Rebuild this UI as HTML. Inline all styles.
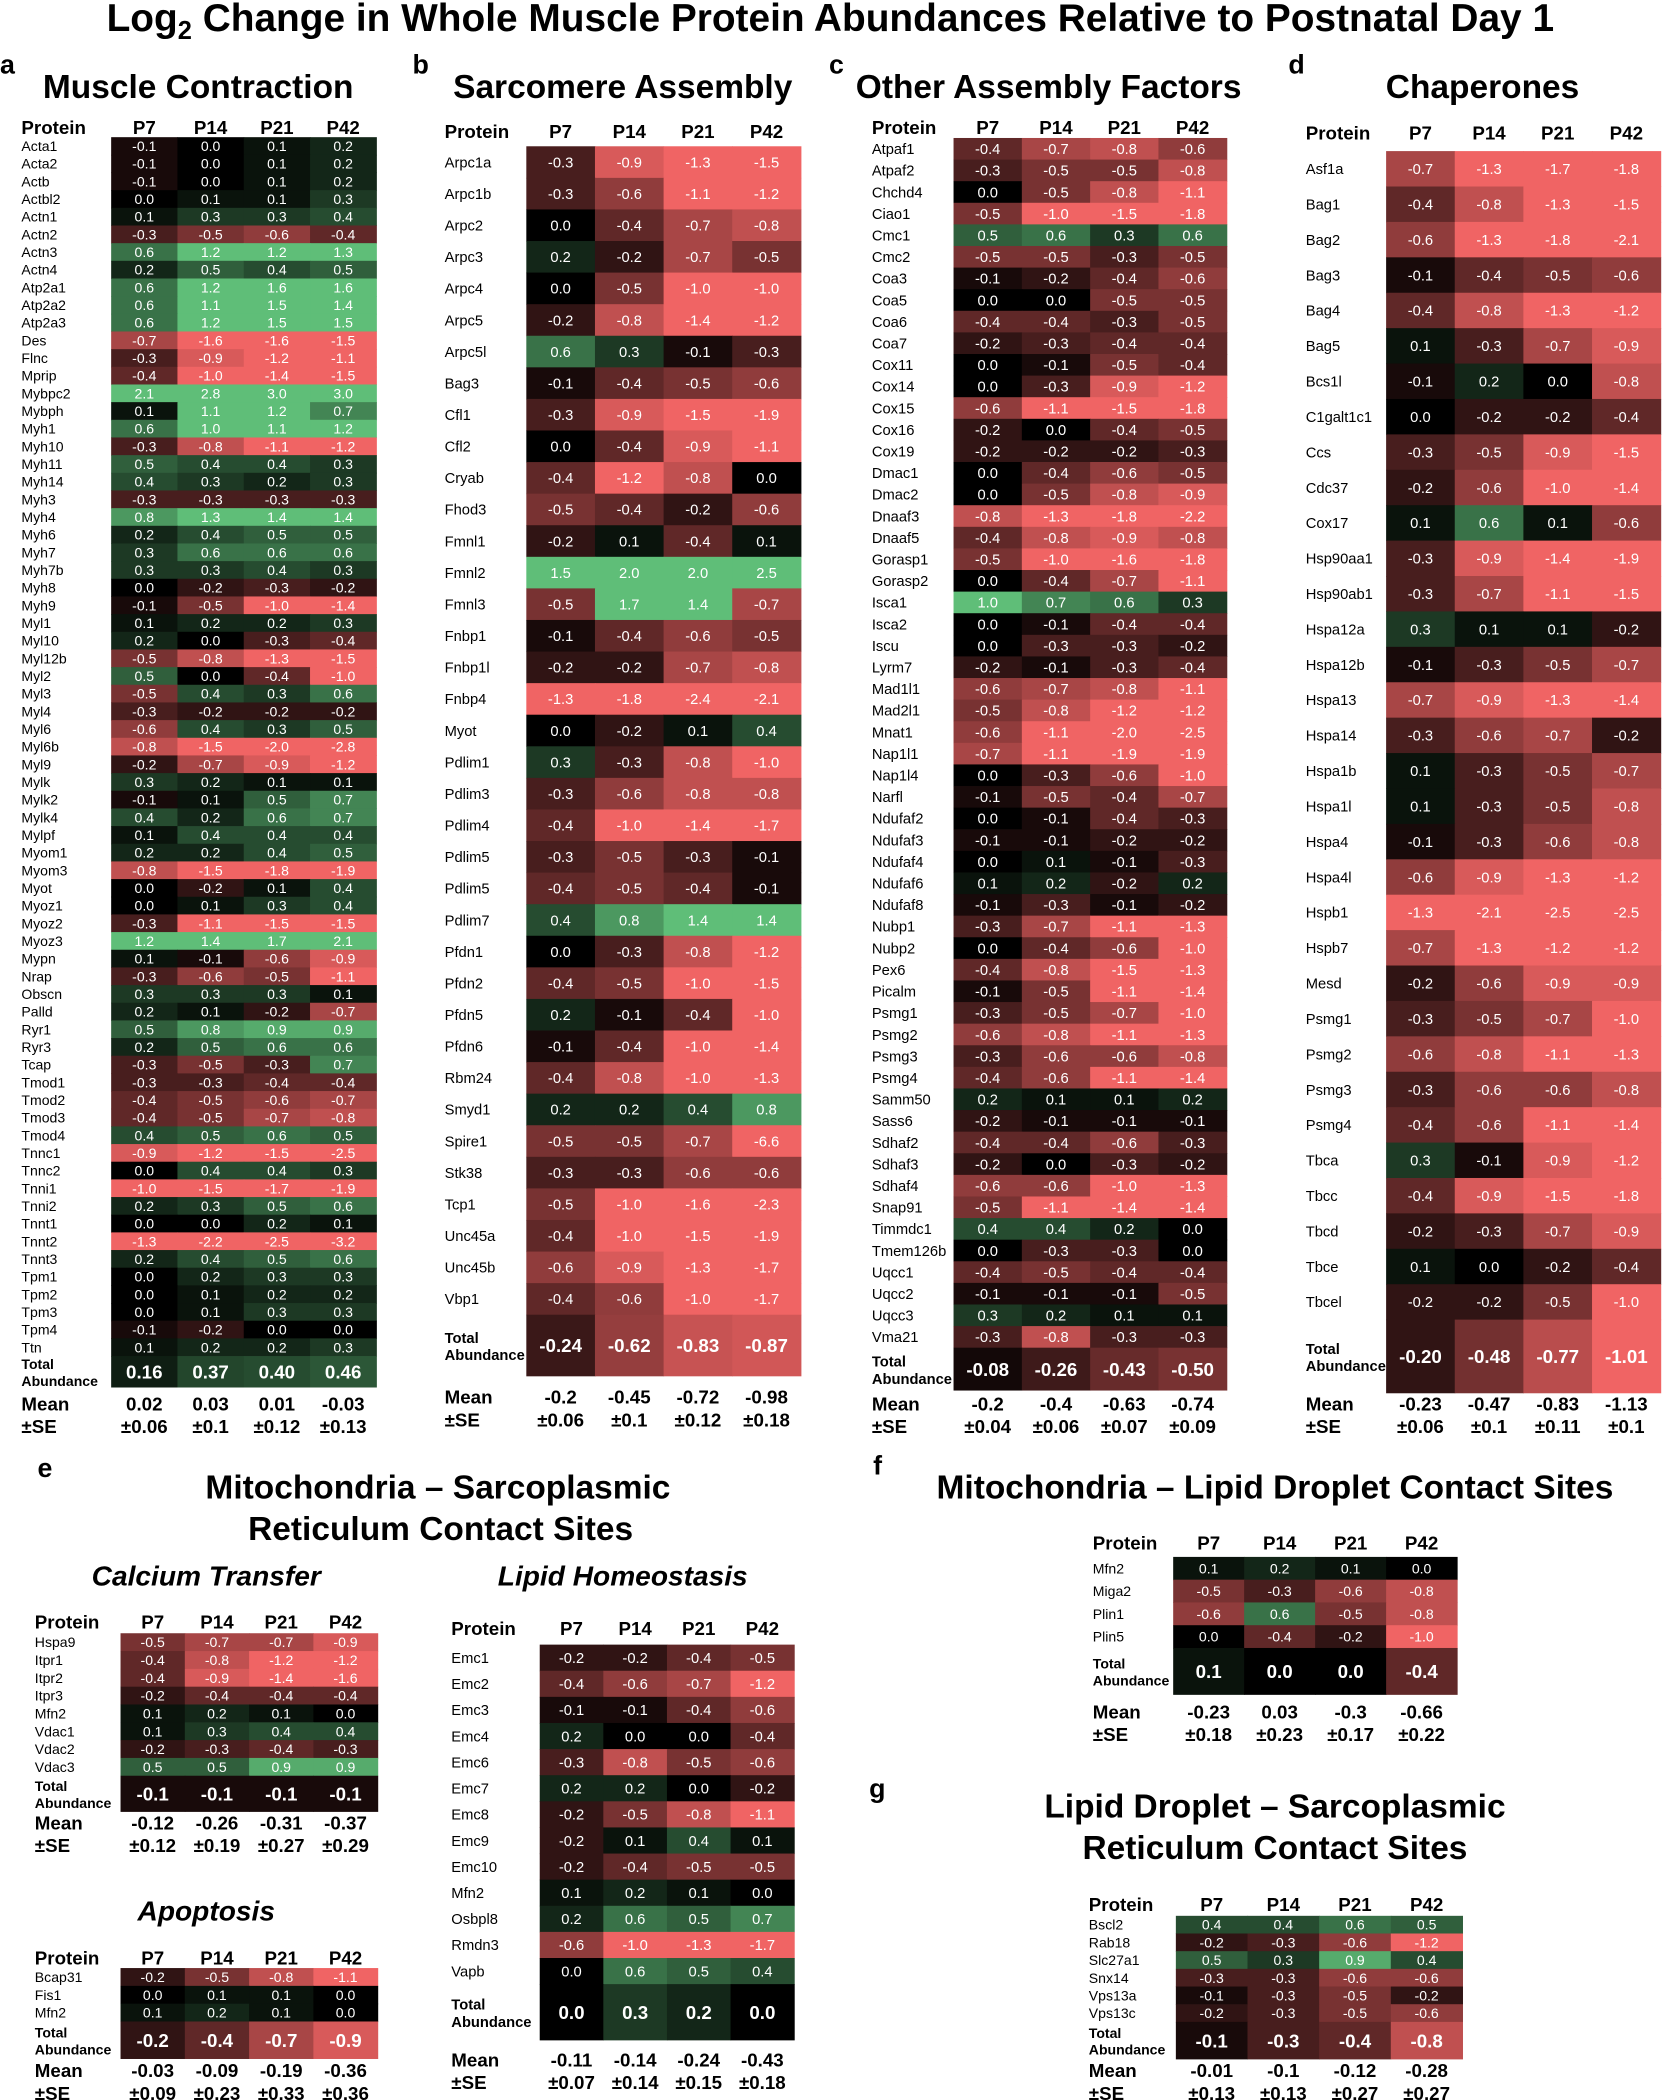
<!DOCTYPE html>
<html><head><meta charset="utf-8">
<style>
html,body{margin:0;padding:0;background:#fff;}
svg{display:block;font-family:"Liberation Sans",Arial,sans-serif;}
</style></head>
<body>
<svg id="fig" width="1662" height="2100" viewBox="0 0 1241 1568" xmlns="http://www.w3.org/2000/svg">
<text x="620" y="23" text-anchor="middle" font-size="29" font-weight="bold">Log<tspan font-size="19" dy="6">2</tspan><tspan dy="-6"> Change in Whole Muscle Protein Abundances Relative to Postnatal Day 1</tspan></text>
<g font-weight="bold" font-size="20">
<text x="0" y="55">a</text>
<text x="308" y="55">b</text>
<text x="619" y="55">c</text>
<text x="962" y="55">d</text>
<text x="28" y="1103">e</text>
<text x="652" y="1101">f</text>
<text x="649" y="1342">g</text>
</g>
<g font-weight="bold" font-size="25" text-anchor="middle">
<text x="148" y="73">Muscle Contraction</text>
<text x="465" y="73">Sarcomere Assembly</text>
<text x="783" y="73">Other Assembly Factors</text>
<text x="1107" y="73">Chaperones</text>
<text x="327" y="1119">Mitochondria – Sarcoplasmic</text>
<text x="329" y="1150">Reticulum Contact Sites</text>
<text x="952" y="1119">Mitochondria – Lipid Droplet Contact Sites</text>
<text x="952" y="1357">Lipid Droplet – Sarcoplasmic</text>
<text x="952" y="1388">Reticulum Contact Sites</text>
</g>
<g font-weight="bold" font-style="italic" font-size="21" text-anchor="middle">
<text x="154" y="1184">Calcium Transfer</text>
<text x="465" y="1184">Lipid Homeostasis</text>
<text x="154" y="1434">Apoptosis</text>
</g>
</svg>
<script>
const cols = ["P7","P14","P21","P42"];
const aProteins = ["Acta1","Acta2","Actb","Actbl2","Actn1","Actn2","Actn3","Actn4","Atp2a1","Atp2a2","Atp2a3","Des","Flnc","Mprip","Mybpc2","Mybph","Myh1","Myh10","Myh11","Myh14","Myh3","Myh4","Myh6","Myh7","Myh7b","Myh8","Myh9","Myl1","Myl10","Myl12b","Myl2","Myl3","Myl4","Myl6","Myl6b","Myl9","Mylk","Mylk2","Mylk4","Mylpf","Myom1","Myom3","Myot","Myoz1","Myoz2","Myoz3","Mypn","Nrap","Obscn","Palld","Ryr1","Ryr3","Tcap","Tmod1","Tmod2","Tmod3","Tmod4","Tnnc1","Tnnc2","Tnni1","Tnni2","Tnnt1","Tnnt2","Tnnt3","Tpm1","Tpm2","Tpm3","Tpm4","Ttn"];
const aValues = [[-0.1,0.0,0.1,0.2],[-0.1,0.0,0.1,0.2],[-0.1,0.0,0.1,0.2],[0.0,0.1,0.1,0.3],[0.1,0.3,0.3,0.4],[-0.3,-0.5,-0.6,-0.4],[0.6,1.2,1.2,1.3],[0.2,0.5,0.4,0.5],[0.6,1.2,1.6,1.6],[0.6,1.1,1.5,1.4],[0.6,1.2,1.5,1.5],[-0.7,-1.6,-1.6,-1.5],[-0.3,-0.9,-1.2,-1.1],[-0.4,-1.0,-1.4,-1.5],[2.1,2.8,3.0,3.0],[0.1,1.1,1.2,0.7],[0.6,1.0,1.1,1.2],[-0.3,-0.8,-1.1,-1.2],[0.5,0.4,0.4,0.3],[0.4,0.3,0.2,0.3],[-0.3,-0.3,-0.3,-0.3],[0.8,1.3,1.4,1.4],[0.2,0.4,0.5,0.5],[0.3,0.6,0.6,0.6],[0.3,0.3,0.4,0.3],[0.0,-0.2,-0.3,-0.2],[-0.1,-0.5,-1.0,-1.4],[0.1,0.2,0.2,0.3],[0.2,0.0,-0.3,-0.4],[-0.5,-0.8,-1.3,-1.5],[0.5,0.0,-0.4,-1.0],[-0.5,0.4,0.3,0.6],[-0.3,-0.2,-0.2,-0.2],[-0.6,0.4,0.3,0.5],[-0.8,-1.5,-2.0,-2.8],[-0.2,-0.7,-0.9,-1.2],[0.3,0.2,0.1,0.1],[-0.1,0.1,0.5,0.7],[0.4,0.2,0.6,0.7],[0.1,0.4,0.4,0.4],[0.2,0.2,0.4,0.5],[-0.8,-1.5,-1.8,-1.9],[0.0,-0.2,0.1,0.4],[0.0,0.1,0.3,0.4],[-0.3,-1.1,-1.5,-1.5],[1.2,1.4,1.7,2.1],[0.1,-0.1,-0.6,-0.9],[-0.3,-0.6,-0.5,-1.1],[0.3,0.3,0.3,0.1],[0.2,0.1,-0.2,-0.7],[0.5,0.8,0.9,0.9],[0.2,0.5,0.6,0.6],[-0.3,-0.5,-0.3,0.7],[-0.3,-0.3,-0.4,-0.4],[-0.4,-0.5,-0.6,-0.7],[-0.4,-0.5,-0.7,-0.8],[0.4,0.5,0.6,0.5],[-0.9,-1.2,-1.5,-2.5],[0.0,0.4,0.4,0.3],[-1.0,-1.5,-1.7,-1.9],[0.2,0.3,0.5,0.6],[0.0,0.0,0.2,0.1],[-1.3,-2.2,-2.5,-3.2],[0.2,0.4,0.5,0.6],[0.0,0.2,0.3,0.3],[0.0,0.1,0.2,0.2],[0.0,0.1,0.3,0.3],[-0.1,-0.2,0.0,0.0],[0.1,0.2,0.2,0.3]];
const aTotal = ["0.16","0.37","0.40","0.46"];
const aMean = ["0.02","0.03","0.01","-0.03"];
const aSE = ["0.06","0.1","0.12","0.13"];

const bProteins = ["Arpc1a","Arpc1b","Arpc2","Arpc3","Arpc4","Arpc5","Arpc5l","Bag3","Cfl1","Cfl2","Cryab","Fhod3","Fmnl1","Fmnl2","Fmnl3","Fnbp1","Fnbp1l","Fnbp4","Myot","Pdlim1","Pdlim3","Pdlim4","Pdlim5","Pdlim5","Pdlim7","Pfdn1","Pfdn2","Pfdn5","Pfdn6","Rbm24","Smyd1","Spire1","Stk38","Tcp1","Unc45a","Unc45b","Vbp1"];
const bValues = [[-0.3,-0.9,-1.3,-1.5],[-0.3,-0.6,-1.1,-1.2],[0.0,-0.4,-0.7,-0.8],[0.2,-0.2,-0.7,-0.5],[0.0,-0.5,-1.0,-1.0],[-0.2,-0.8,-1.4,-1.2],[0.6,0.3,-0.1,-0.3],[-0.1,-0.4,-0.5,-0.6],[-0.3,-0.9,-1.5,-1.9],[0.0,-0.4,-0.9,-1.1],[-0.4,-1.2,-0.8,0.0],[-0.5,-0.4,-0.2,-0.6],[-0.2,0.1,-0.4,0.1],[1.5,2.0,2.0,2.5],[-0.5,1.7,1.4,-0.7],[-0.1,-0.4,-0.6,-0.5],[-0.2,-0.2,-0.7,-0.8],[-1.3,-1.8,-2.4,-2.1],[0.0,-0.2,0.1,0.4],[0.3,-0.3,-0.8,-1.0],[-0.3,-0.6,-0.8,-0.8],[-0.4,-1.0,-1.4,-1.7],[-0.3,-0.5,-0.3,-0.1],[-0.4,-0.5,-0.4,-0.1],[0.4,0.8,1.4,1.4],[0.0,-0.3,-0.8,-1.2],[-0.4,-0.5,-1.0,-1.5],[0.2,-0.1,-0.4,-1.0],[-0.1,-0.4,-1.0,-1.4],[-0.4,-0.8,-1.0,-1.3],[0.2,0.2,0.4,0.8],[-0.5,-0.5,-0.7,-6.6],[-0.3,-0.3,-0.6,-0.6],[-0.5,-1.0,-1.6,-2.3],[-0.4,-1.0,-1.5,-1.9],[-0.6,-0.9,-1.3,-1.7],[-0.4,-0.6,-1.0,-1.7]];
const bTotal = ["-0.24","-0.62","-0.83","-0.87"];
const bMean = ["-0.2","-0.45","-0.72","-0.98"];
const bSE = ["0.06","0.1","0.12","0.18"];

const cProteins = ["Atpaf1","Atpaf2","Chchd4","Ciao1","Cmc1","Cmc2","Coa3","Coa5","Coa6","Coa7","Cox11","Cox14","Cox15","Cox16","Cox19","Dmac1","Dmac2","Dnaaf3","Dnaaf5","Gorasp1","Gorasp2","Isca1","Isca2","Iscu","Lyrm7","Mad1l1","Mad2l1","Mnat1","Nap1l1","Nap1l4","Narfl","Ndufaf2","Ndufaf3","Ndufaf4","Ndufaf6","Ndufaf8","Nubp1","Nubp2","Pex6","Picalm","Psmg1","Psmg2","Psmg3","Psmg4","Samm50","Sass6","Sdhaf2","Sdhaf3","Sdhaf4","Snap91","Timmdc1","Tmem126b","Uqcc1","Uqcc2","Uqcc3","Vma21"];
const cValues = [[-0.4,-0.7,-0.8,-0.6],[-0.3,-0.5,-0.5,-0.8],[0.0,-0.5,-0.8,-1.1],[-0.5,-1.0,-1.5,-1.8],[0.5,0.6,0.3,0.6],[-0.5,-0.5,-0.3,-0.5],[-0.1,-0.2,-0.4,-0.6],[0.0,0.0,-0.5,-0.5],[-0.4,-0.4,-0.3,-0.5],[-0.2,-0.3,-0.4,-0.4],[0.0,-0.1,-0.5,-0.4],[0.0,-0.3,-0.9,-1.2],[-0.6,-1.1,-1.5,-1.8],[-0.2,0.0,-0.4,-0.5],[-0.2,-0.2,-0.2,-0.3],[0.0,-0.4,-0.6,-0.5],[0.0,-0.5,-0.8,-0.9],[-0.8,-1.3,-1.8,-2.2],[-0.4,-0.8,-0.9,-0.8],[-0.5,-1.0,-1.6,-1.8],[0.0,-0.4,-0.7,-1.1],[1.0,0.7,0.6,0.3],[0.0,-0.1,-0.4,-0.4],[0.0,-0.3,-0.3,-0.2],[-0.2,-0.1,-0.3,-0.4],[-0.6,-0.7,-0.8,-1.1],[-0.5,-0.8,-1.2,-1.2],[-0.6,-1.1,-2.0,-2.5],[-0.7,-1.1,-1.9,-1.9],[0.0,-0.3,-0.6,-1.0],[-0.1,-0.5,-0.4,-0.7],[0.0,-0.1,-0.4,-0.3],[-0.1,-0.1,-0.2,-0.2],[0.0,0.1,-0.1,-0.3],[0.1,0.2,-0.2,0.2],[-0.1,-0.3,-0.1,-0.2],[-0.3,-0.7,-1.1,-1.3],[0.0,-0.4,-0.6,-1.0],[-0.4,-0.8,-1.5,-1.3],[-0.1,-0.5,-1.1,-1.4],[-0.3,-0.5,-0.7,-1.0],[-0.6,-0.8,-1.1,-1.3],[-0.3,-0.6,-0.6,-0.8],[-0.4,-0.6,-1.1,-1.4],[0.2,0.1,0.1,0.2],[-0.2,-0.1,-0.1,-0.1],[-0.4,-0.4,-0.6,-0.3],[-0.2,0.0,-0.3,-0.2],[-0.6,-0.6,-1.0,-1.3],[-0.5,-1.1,-1.4,-1.4],[0.4,0.4,0.2,0.0],[0.0,-0.3,-0.3,0.0],[-0.4,-0.5,-0.4,-0.4],[-0.1,-0.1,-0.1,-0.5],[0.3,0.2,0.1,0.1],[-0.3,-0.8,-0.3,-0.3]];
const cTotal = ["-0.08","-0.26","-0.43","-0.50"];
const cMean = ["-0.2","-0.4","-0.63","-0.74"];
const cSE = ["0.04","0.06","0.07","0.09"];

const dProteins = ["Asf1a","Bag1","Bag2","Bag3","Bag4","Bag5","Bcs1l","C1galt1c1","Ccs","Cdc37","Cox17","Hsp90aa1","Hsp90ab1","Hspa12a","Hspa12b","Hspa13","Hspa14","Hspa1b","Hspa1l","Hspa4","Hspa4l","Hspb1","Hspb7","Mesd","Psmg1","Psmg2","Psmg3","Psmg4","Tbca","Tbcc","Tbcd","Tbce","Tbcel"];
const dValues = [[-0.7,-1.3,-1.7,-1.8],[-0.4,-0.8,-1.3,-1.5],[-0.6,-1.3,-1.8,-2.1],[-0.1,-0.4,-0.5,-0.6],[-0.4,-0.8,-1.3,-1.2],[0.1,-0.3,-0.7,-0.9],[-0.1,0.2,0.0,-0.8],[0.0,-0.2,-0.2,-0.4],[-0.3,-0.5,-0.9,-1.5],[-0.2,-0.6,-1.0,-1.4],[0.1,0.6,0.1,-0.6],[-0.3,-0.9,-1.4,-1.9],[-0.3,-0.7,-1.1,-1.5],[0.3,0.1,0.1,-0.2],[-0.1,-0.3,-0.5,-0.7],[-0.7,-0.9,-1.3,-1.4],[-0.3,-0.6,-0.7,-0.2],[0.1,-0.3,-0.5,-0.7],[0.1,-0.3,-0.5,-0.8],[-0.1,-0.3,-0.6,-0.8],[-0.6,-0.9,-1.3,-1.2],[-1.3,-2.1,-2.5,-2.5],[-0.7,-1.3,-1.2,-1.2],[-0.2,-0.6,-0.9,-0.9],[-0.3,-0.5,-0.7,-1.0],[-0.6,-0.8,-1.1,-1.3],[-0.3,-0.6,-0.6,-0.8],[-0.4,-0.6,-1.1,-1.4],[0.3,-0.1,-0.9,-1.2],[-0.4,-0.9,-1.5,-1.8],[-0.2,-0.3,-0.7,-0.9],[0.1,0.0,-0.2,-0.4],[-0.2,-0.2,-0.5,-1.0]];
const dTotal = ["-0.20","-0.48","-0.77","-1.01"];
const dMean = ["-0.23","-0.47","-0.83","-1.13"];
const dSE = ["0.06","0.1","0.11","0.1"];

const caProteins = ["Hspa9","Itpr1","Itpr2","Itpr3","Mfn2","Vdac1","Vdac2","Vdac3"];
const caValues = [[-0.5,-0.7,-0.7,-0.9],[-0.4,-0.8,-1.2,-1.2],[-0.4,-0.9,-1.4,-1.6],[-0.2,-0.4,-0.4,-0.4],[0.1,0.2,0.1,0.0],[0.1,0.3,0.4,0.4],[-0.2,-0.3,-0.4,-0.3],[0.5,0.5,0.9,0.9]];
const caTotal = ["-0.1","-0.1","-0.1","-0.1"];
const caMean = ["-0.12","-0.26","-0.31","-0.37"];
const caSE = ["0.12","0.19","0.27","0.29"];

const apProteins = ["Bcap31","Fis1","Mfn2"];
const apValues = [[-0.2,-0.5,-0.8,-1.1],[0.0,0.1,0.1,0.0],[0.1,0.2,0.1,0.0]];
const apTotal = ["-0.2","-0.4","-0.7","-0.9"];
const apMean = ["-0.03","-0.09","-0.19","-0.36"];
const apSE = ["0.09","0.23","0.33","0.36"];

const lhProteins = ["Emc1","Emc2","Emc3","Emc4","Emc6","Emc7","Emc8","Emc9","Emc10","Mfn2","Osbpl8","Rmdn3","Vapb"];
const lhValues = [[-0.2,-0.2,-0.4,-0.5],[-0.4,-0.6,-0.7,-1.2],[-0.1,-0.1,-0.4,-0.6],[0.2,0.0,0.0,-0.4],[-0.3,-0.8,-0.5,-0.6],[0.2,0.2,0.0,-0.2],[-0.2,-0.5,-0.8,-1.1],[-0.2,0.1,0.4,0.1],[-0.2,-0.4,-0.5,-0.5],[0.1,0.2,0.1,0.0],[0.2,0.6,0.5,0.7],[-0.6,-1.0,-1.3,-1.7],[0.0,0.6,0.5,0.4]];
const lhTotal = ["0.0","0.3","0.2","0.0"];
const lhMean = ["-0.11","-0.14","-0.24","-0.43"];
const lhSE = ["0.07","0.14","0.15","0.18"];

const fProteins = ["Mfn2","Miga2","Plin1","Plin5"];
const fValues = [[0.1,0.2,0.1,0.0],[-0.5,-0.3,-0.6,-0.8],[-0.6,0.6,-0.5,-0.8],[0.0,-0.4,-0.2,-1.0]];
const fTotal = ["0.1","0.0","0.0","-0.4"];
const fMean = ["-0.23","0.03","-0.3","-0.66"];
const fSE = ["0.18","0.23","0.17","0.22"];

const gProteins = ["Bscl2","Rab18","Slc27a1","Snx14","Vps13a","Vps13c"];
const gValues = [[0.4,0.4,0.6,0.5],[-0.2,-0.3,-0.6,-1.2],[0.5,0.3,0.9,0.4],[-0.3,-0.3,-0.6,-0.6],[-0.1,-0.3,-0.5,-0.2],[-0.2,-0.3,-0.5,-0.6]];
const gTotal = ["-0.1","-0.3","-0.4","-0.8"];
const gMean = ["-0.01","-0.1","-0.12","-0.28"];
const gSE = ["0.13","0.13","0.27","0.27"];

const NS = "http://www.w3.org/2000/svg";
const svg = document.getElementById("fig");
function colorScale(v){
  const t = Math.min(Math.abs(v)/1.0, 1);
  if (v < 0) return `rgb(${Math.round(240*t)},${Math.round(100*t)},${Math.round(100*t)})`;
  return `rgb(${Math.round(95*t)},${Math.round(190*t)},${Math.round(120*t)})`;
}
function mk(tag, attrs, parent){
  const e = document.createElementNS(NS, tag);
  for (const k in attrs) e.setAttribute(k, attrs[k]);
  parent.appendChild(e);
  return e;
}
function txt(parent, x, y, s, size, weight, anchor, fill){
  const t = mk("text", {x:x, y:y, "font-size":size, "font-weight":weight||"normal", "text-anchor":anchor||"start", fill:fill||"#000"}, parent);
  t.textContent = s;
  return t;
}
function drawPanel(id, prot, vals, total, mean, se, L){
  const g = mk("g", {}, svg);
  
  
  const cw = (L.x1 - L.x0)/4;
  const cx = i => L.x0 + cw*(i+0.5);
  const rowY = r => L.top + r*L.rowH;
  const h1 = txt(g, L.labelX, L.headerY, "Protein", L.hs, "bold");
  
  
  cols.forEach((c,i)=>{
    const t = txt(g, cx(i), L.headerY, c, L.hs, "bold", "middle");
    
    
  });
  prot.forEach((p,r)=>{
    const lab = txt(g, L.labelX, rowY(r)+L.rowH/2+L.ls*0.36, p, L.ls);
    
    
    vals[r].forEach((v,i)=>{
      const rc = mk("rect", {x:L.x0+cw*i, y:rowY(r), width:cw+0.4, height:L.rowH+0.4, fill:colorScale(v)}, g);
      
      
      const vt = txt(g, cx(i), rowY(r)+L.rowH/2+L.vs*0.36, v.toFixed(1), L.vs, "normal", "middle", "#fff");
      
      
    });
  });
  const ty = rowY(prot.length);
  total.forEach((v,i)=>{
    const rc = mk("rect", {x:L.x0+cw*i, y:ty, width:cw+0.4, height:L.totalH, fill:colorScale(parseFloat(v))}, g);
    
    
    const vt = txt(g, cx(i), ty+L.totalH/2+5, v, L.ts, "bold", "middle", "#fff");
    
    
  });
  const tl = txt(g, L.labelX, ty+L.totalH/2-2, "Total", L.ls, "bold");
  
  
  const tl2 = txt(g, L.labelX, ty+L.totalH/2+L.ls, "Abundance", L.ls, "bold");
  
  
  const ml = txt(g, L.labelX, L.meanY, "Mean", L.ms, "bold");
  
  
  const sl = txt(g, L.labelX, L.meanY+17, "±SE", L.ms, "bold");
  
  
  mean.forEach((m,i)=>{
    const mt = txt(g, cx(i), L.meanY, m, L.ms, "bold", "middle");
    
    
    const st = txt(g, cx(i), L.meanY+17, "±" + se[i], L.ms, "bold", "middle");
    
    
  });
}
drawPanel("muscle-contraction", aProteins, aValues, aTotal, aMean, aSE,
  {labelX:16, x0:83, x1:281, top:102.4, rowH:13.19, totalH:23.5, headerY:100, hs:14, ls:10.5, vs:10.5, ts:14, ms:14, meanY:1053});
drawPanel("sarcomere-assembly", bProteins, bValues, bTotal, bMean, bSE,
  {labelX:332, x0:393, x1:598, top:109.2, rowH:23.58, totalH:46, headerY:103, hs:14, ls:11, vs:11, ts:14, ms:14, meanY:1048});
drawPanel("other-assembly-factors", cProteins, cValues, cTotal, cMean, cSE,
  {labelX:651, x0:712, x1:916, top:103, rowH:16.13, totalH:32, headerY:100, hs:14, ls:11, vs:11, ts:14, ms:14, meanY:1053});
drawPanel("chaperones", dProteins, dValues, dTotal, dMean, dSE,
  {labelX:975, x0:1035, x1:1240, top:112.8, rowH:26.44, totalH:55, headerY:104, hs:14, ls:11, vs:11, ts:14, ms:14, meanY:1053});
drawPanel("calcium-transfer", caProteins, caValues, caTotal, caMean, caSE,
  {labelX:26, x0:90, x1:282, top:1219.5, rowH:13.3, totalH:27, headerY:1216, hs:14, ls:10.5, vs:10.5, ts:14, ms:14, meanY:1366});
drawPanel("apoptosis", apProteins, apValues, apTotal, apMean, apSE,
  {labelX:26, x0:90, x1:282, top:1469.5, rowH:13.3, totalH:28, headerY:1467, hs:14, ls:10.5, vs:10.5, ts:14, ms:14, meanY:1551});
drawPanel("lipid-homeostasis", lhProteins, lhValues, lhTotal, lhMean, lhSE,
  {labelX:337, x0:403, x1:593, top:1228, rowH:19.5, totalH:42, headerY:1221, hs:14, ls:11, vs:11, ts:14, ms:14, meanY:1543});
drawPanel("mito-lipid-droplet", fProteins, fValues, fTotal, fMean, fSE,
  {labelX:816, x0:876, x1:1088, top:1162.5, rowH:17, totalH:35, headerY:1157, hs:14, ls:10.5, vs:10.5, ts:14, ms:14, meanY:1283});
drawPanel("lipid-droplet-sr", gProteins, gValues, gTotal, gMean, gSE,
  {labelX:813, x0:878, x1:1092, top:1430.5, rowH:13.2, totalH:28, headerY:1427, hs:14, ls:10.5, vs:10.5, ts:14, ms:14, meanY:1551});
</script>
</body></html>
